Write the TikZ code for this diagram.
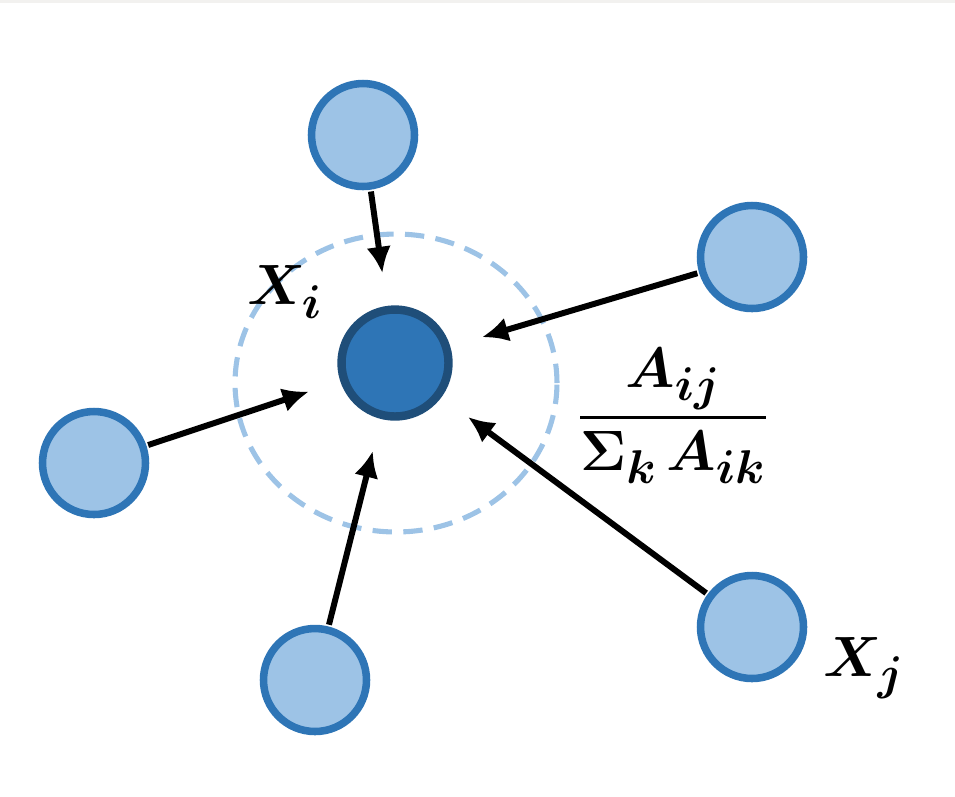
\documentclass[tikz,border=0pt]{standalone}
\usepackage{amsmath, amssymb, bm}
\usepackage{tikz}
\usetikzlibrary{arrows.meta}

\definecolor{lightblue}{HTML}{9DC3E6}
\definecolor{nodeblue}{HTML}{2E75B6}
\definecolor{darkblue}{HTML}{1F4E79}
\definecolor{topstrip}{HTML}{F2F1EF}

\begin{document}
\begin{tikzpicture}[x=0.02cm, y=-0.02cm, >={Latex[length=15pt, width=14pt]},
		every node/.style={font=\fontsize{24.88}{30}\selectfont},
		lbl/.style={scale=1.3, transform shape},
		nbr/.style={circle, draw=nodeblue, fill=lightblue, line width=4.3pt, minimum size=2.06cm, inner sep=0pt},
		ctr/.style={circle, draw=darkblue, fill=nodeblue, line width=4.8pt, minimum size=2.14cm, inner sep=0pt},
		msg/.style={->, line width=3.4pt, shorten <=1pt, shorten >=0.66cm}]
			% Canvas and top strip
			\useasboundingbox (0,0) rectangle (955,796);
			\fill[topstrip] (0,0) rectangle (955,3);
			
			% Neighbourhood of the centre node
			\draw[lightblue, line width=2.9pt, dash pattern=on 11pt off 6.5pt] (396,383) ellipse [x radius=3.22cm, y radius=2.98cm];
			
			% Nodes
			\node[ctr] (xi) at (395,363) {};
			\node[nbr] (top) at (363,135) {};
			\node[nbr] (ur) at (752,257) {};
			\node[nbr] (left) at (94,463) {};
			\node[nbr] (bot) at (315,680) {};
			\node[nbr] (xj) at (752,627) {};
			
			% Labels
			\node[lbl] (lxi) at (285,292) {$\bm{X_i}$};
			\node[lbl] (lxj) at (864,668) {$\bm{X_j}$};
			\node[lbl] (wij) at (673,416) {$\dfrac{\bm{A_{ij}}}{\bm{\Sigma_k\, A_{ik}}}$};
			
			% Messages towards the centre
			\foreach \src in {top, ur, left, bot, xj}
				\draw[msg] (\src) -- (xi);
		\end{tikzpicture}
\end{document}
